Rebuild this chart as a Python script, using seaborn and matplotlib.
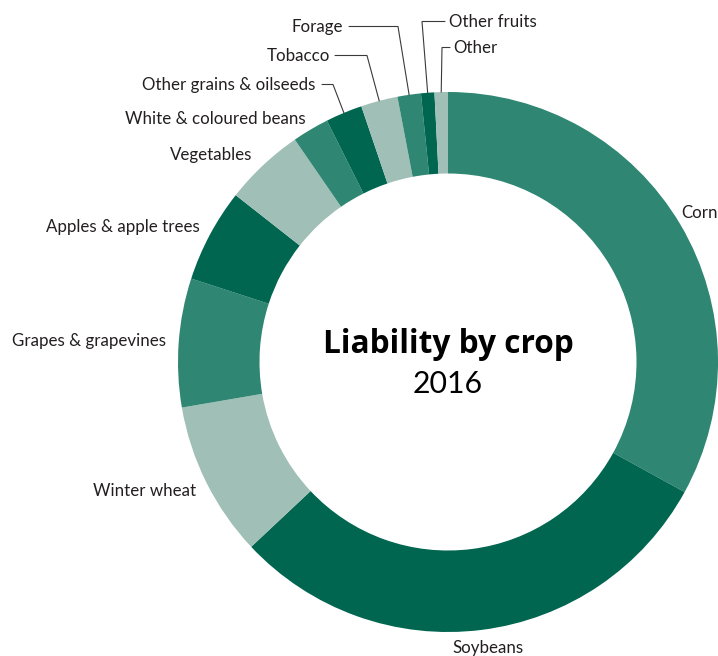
import matplotlib
matplotlib.use("Agg")
import matplotlib.pyplot as plt
import seaborn as sns
import numpy as np

# Share of total liability by crop, 2016 (%)
crops = [
    "Corn", "Soybeans", "Winter wheat", "Grapes & grapevines",
    "Apples & apple trees", "Vegetables", "White & coloured beans",
    "Other grains & oilseeds", "Tobacco", "Forage", "Other fruits", "Other",
]
liability_share = [33.0, 30.0, 9.3, 7.7, 5.6, 4.8, 2.2, 2.2, 2.2, 1.4, 0.8, 0.8]
title_text = "Liability by crop"
year_text = "2016"

MID, DARK, LIGHT = "#2e8673", "#00664f", "#a0bfb7"
slice_colors = [MID, DARK, LIGHT] * 4

sns.set_theme(style="white")
plt.rcParams["font.family"] = ["Lato", "DejaVu Sans"]

W, H = 718, 656
fig = plt.figure(figsize=(W / 100, H / 100), dpi=100)
ax = fig.add_axes([0, 0, 1, 1])

# donut geometry in pixel units (y measured from the bottom)
cx, cy, R, ring = 448, H - 362, 270, 81.5
wedges, _ = ax.pie(
    liability_share, colors=slice_colors, startangle=90, counterclock=False,
    center=(cx, cy), radius=R,
    wedgeprops=dict(width=ring, linewidth=0),
)
ax.set_xlim(0, W)
ax.set_ylim(0, H)
ax.set_aspect("auto")
ax.axis("off")

TXT = "#231f20"
LINE = "#3a3a3a"
FS = 12.2

# label placement: x, baseline (from top), alignment, optional leader (start x, elbow x)
placement = {
    "Corn": (681, 218, "left", None),
    "Soybeans": (488, 653, "center", None),
    "Winter wheat": (196, 496, "right", None),
    "Grapes & grapevines": (166, 346, "right", None),
    "Apples & apple trees": (200, 232, "right", None),
    "Vegetables": (252, 160, "right", None),
    "White & coloured beans": (306, 124, "right", None),
    "Other grains & oilseeds": (315, 90, "right", (322, 333)),
    "Tobacco": (330, 61, "right", (335, 367)),
    "Forage": (343, 32, "right", (349, 398)),
    "Other fruits": (449, 27, "left", (445, 422)),
    "Other": (453, 53, "left", (450, 442)),
}

for name, w in zip(crops, wedges):
    x, base, ha, leader = placement[name]
    ax.text(x, H - base, name, ha=ha, va="baseline", fontsize=FS, color=TXT)
    if leader is not None:
        mid = np.deg2rad((w.theta1 + w.theta2) / 2)
        ax_x = cx + R * np.cos(mid)
        ax_y = cy + R * np.sin(mid)
        ly = H - (base - 5.5)
        x0, xe = leader
        ax.plot([x0, xe, ax_x], [ly, ly, ax_y], color=LINE, lw=0.8,
                solid_joinstyle="miter")

ax.text(cx, H - 353, title_text, ha="center", va="baseline",
        fontsize=22.8, fontweight="bold", color="black",
        family=["Open Sans", "DejaVu Sans"])
ax.text(cx, H - 393, year_text, ha="center", va="baseline",
        fontsize=21.8, color="black")

fig.savefig("out.png", dpi=100, facecolor="white")
